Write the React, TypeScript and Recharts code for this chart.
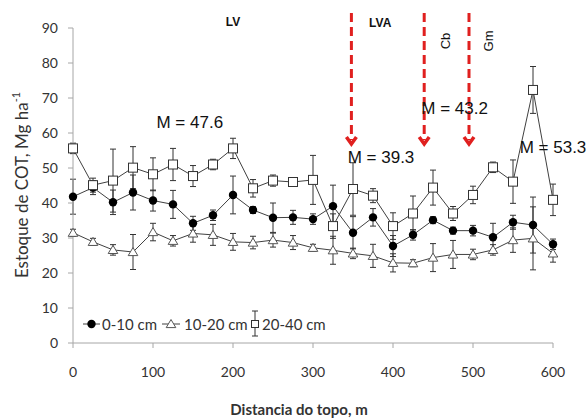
import React from 'react';
import { LineChart, Line, XAxis, YAxis, ErrorBar, ReferenceLine, ReferenceDot } from 'recharts';

const distances = [0, 25, 50, 75, 100, 125, 150, 175, 200, 225, 250, 275, 300, 325, 350, 375, 400, 425, 450, 475, 500, 525, 550, 575, 600];

const cot0_10 = [41.8, 44.4, 40.2, 43.0, 40.7, 39.6, 34.2, 36.5, 42.3, 38.0, 35.8, 35.9, 35.4, 39.1, 31.5, 35.9, 27.7, 30.9, 35.1, 32.1, 32.1, 30.2, 34.5, 33.7, 28.2];
const err0_10 = [5.0, 2.0, 3.5, 5.0, 3.0, 4.0, 2.0, 1.5, 5.4, 1.0, 4.2, 2.0, 1.5, 6.0, 4.6, 2.5, 3.0, 1.5, 1.0, 1.0, 1.5, 4.0, 2.0, 8.0, 1.5];

const cot10_20 = [31.5, 28.9, 26.6, 26.0, 31.7, 29.2, 31.3, 30.9, 28.9, 28.7, 29.4, 28.7, 27.2, 26.5, 25.6, 24.9, 22.9, 22.8, 24.4, 25.3, 25.3, 26.6, 29.4, 29.9, 25.6];
const err10_20 = [1.0, 1.0, 1.5, 5.0, 2.5, 1.5, 2.5, 3.0, 2.4, 1.8, 2.0, 2.0, 1.0, 4.0, 1.5, 3.3, 2.6, 1.0, 4.0, 4.0, 1.5, 1.5, 3.5, 9.0, 2.5];

const cot20_40 = [55.6, 45.1, 46.4, 50.1, 48.2, 51.0, 47.7, 51.0, 55.6, 44.2, 46.4, 46.0, 46.6, 33.4, 44.0, 42.1, 33.4, 37.0, 44.4, 37.0, 42.3, 50.2, 46.1, 72.3, 40.9];
const err20_40 = [1.5, 2.0, 9.0, 6.0, 4.7, 4.6, 3.0, 1.5, 2.9, 2.5, 1.6, 1.0, 7.0, 3.5, 7.5, 2.0, 3.8, 5.0, 5.0, 2.0, 2.5, 1.5, 6.2, 6.7, 4.5];

const xTicks = [0, 100, 200, 300, 400, 500, 600];
const yTicks = [0, 10, 20, 30, 40, 50, 60, 70, 80, 90];

// boundaries between soil classes (distance, m)
const boundaries = [348, 439, 495];

const meanLabels = [
    { x: 146, y: 63.1, text: 'M = 47.6' },
    { x: 385, y: 52.9, text: 'M = 39.3' },
    { x: 477, y: 66.9, text: 'M = 43.2' },
    { x: 600, y: 56.0, text: 'M = 53.3' },
];

const soilLabels = [
    { x: 200, y: 91.7, text: 'LV', rotate: false },
    { x: 384, y: 91.4, text: 'LVA', rotate: false },
    { x: 466, y: 86.3, text: 'Cb', rotate: true },
    { x: 520, y: 86.3, text: 'Gm', rotate: true },
];

const chartData = distances.map((d, i) => ({
    d,
    a: cot0_10[i],
    aErr: err0_10[i],
    b: cot10_20[i],
    bErr: err10_20[i],
    c: cot20_40[i],
    cErr: err20_40[i],
}));

const LINE = '#404040';
const AXIS = '#a6a6a6';
const TEXT = '#333333';
const RED = '#e0201f';

const CircleDot = (props: any) => {
    const { cx, cy, index } = props;
    return <circle key={`a${index}`} cx={cx} cy={cy} r={4.2} fill="#000" />;
};

const TriangleDot = (props: any) => {
    const { cx, cy, index } = props;
    return (
        <path
            key={`b${index}`}
            d={`M${cx},${cy - 4.5}L${cx + 4.8},${cy + 3.6}L${cx - 4.8},${cy + 3.6}Z`}
            fill="#fff"
            stroke="#555"
            strokeWidth={1}
        />
    );
};

const SquareDot = (props: any) => {
    const { cx, cy, index } = props;
    return <rect key={`c${index}`} x={cx - 4.5} y={cy - 4.5} width={9} height={9} fill="#fff" stroke="#333" strokeWidth={1} />;
};

const ArrowShape = (props: any) => {
    const { x1, y1, x2, y2 } = props;
    const top = Math.min(y1, y2);
    const tip = Math.max(y1, y2);
    return (
        <g>
            <line x1={x1} y1={top} x2={x2} y2={tip - 6} stroke={RED} strokeWidth={3} strokeDasharray="9 5" />
            <polyline
                points={`${x1 - 5},${tip - 9} ${x1},${tip - 2} ${x1 + 5},${tip - 9}`}
                fill="none"
                stroke={RED}
                strokeWidth={3.5}
            />
        </g>
    );
};

const textShape = (text: string, opts: { size: number; bold?: boolean; rotate?: boolean }) => (props: any) => {
    const { cx, cy } = props;
    return (
        <text
            x={cx}
            y={cy}
            textAnchor="middle"
            dominantBaseline="central"
            fontFamily="'Liberation Sans', Arial, sans-serif"
            fontSize={opts.size}
            fontWeight={opts.bold ? 'bold' : 'normal'}
            fill="#111"
            transform={opts.rotate ? `rotate(-90, ${cx}, ${cy})` : undefined}
        >
            {text}
        </text>
    );
};

const legendText: React.CSSProperties = {
    position: 'absolute',
    fontFamily: 'Lato, sans-serif',
    fontSize: 15,
    color: TEXT,
    lineHeight: '18px',
    top: 315,
    whiteSpace: 'nowrap',
};

const App = () => {
    return (
        <div style={{ position: 'absolute', left: 0, top: 0, width: 587, height: 419, background: '#fff' }}>
            <LineChart width={587} height={419} data={chartData} margin={{ top: 28, right: 34, left: 0, bottom: 46 }}>
                <XAxis
                    dataKey="d"
                    type="number"
                    domain={[0, 600]}
                    ticks={xTicks}
                    stroke={AXIS}
                    tickSize={5}
                    tickMargin={19}
                    height={30}
                    tick={{ fill: TEXT, fontSize: 14, fontFamily: 'Lato, sans-serif' }}
                />
                <YAxis
                    type="number"
                    domain={[0, 90]}
                    ticks={yTicks}
                    stroke={AXIS}
                    tickSize={5}
                    tickMargin={10}
                    width={73}
                    tick={{ fill: TEXT, fontSize: 14, fontFamily: 'Lato, sans-serif' }}
                />
                <Line dataKey="a" stroke={LINE} strokeWidth={1} dot={CircleDot} isAnimationActive={false} type="linear">
                    <ErrorBar dataKey="aErr" width={3} stroke="#333" strokeWidth={1} direction="y" />
                </Line>
                <Line dataKey="b" stroke={LINE} strokeWidth={1} dot={TriangleDot} isAnimationActive={false} type="linear">
                    <ErrorBar dataKey="bErr" width={3} stroke="#333" strokeWidth={1} direction="y" />
                </Line>
                <Line dataKey="c" stroke={LINE} strokeWidth={1} dot={SquareDot} isAnimationActive={false} type="linear">
                    <ErrorBar dataKey="cErr" width={3} stroke="#333" strokeWidth={1} direction="y" />
                </Line>
                {boundaries.map((b) => (
                    <ReferenceLine
                        key={b}
                        segment={[{ x: b, y: 94.3 }, { x: b, y: 56.3 }]}
                        ifOverflow="visible"
                        shape={ArrowShape}
                    />
                ))}
                {meanLabels.map((m) => (
                    <ReferenceDot key={m.text} x={m.x} y={m.y} r={0} ifOverflow="visible" shape={textShape(m.text, { size: 17 })} />
                ))}
                {soilLabels.map((s) => (
                    <ReferenceDot
                        key={s.text}
                        x={s.x}
                        y={s.y}
                        r={0}
                        ifOverflow="visible"
                        shape={textShape(s.text, { size: s.rotate ? 13 : 12, bold: !s.rotate, rotate: s.rotate })}
                    />
                ))}
            </LineChart>

            <svg width={587} height={419} style={{ position: 'absolute', left: 0, top: 0, pointerEvents: 'none' }}>
                <text
                    transform="translate(21, 185) rotate(-90)"
                    textAnchor="middle"
                    dominantBaseline="central"
                    fontFamily="Lato, sans-serif"
                    fontSize={17}
                    fill={TEXT}
                >
                    Estoque de COT, Mg ha<tspan fontSize={11} dy={-6}>-1</tspan>
                </text>
                <text x={299} y={409} textAnchor="middle" dominantBaseline="central" fontFamily="Lato, sans-serif" fontSize={15} fontWeight="bold" fill={TEXT}>
                    Distancia do topo, m
                </text>

                <line x1={83} y1={324} x2={100} y2={324} stroke={LINE} />
                <circle cx={91.5} cy={324} r={4.2} fill="#000" />
                <line x1={162} y1={324} x2={180} y2={324} stroke={LINE} />
                <path d="M171,319.5L175.8,327.6L166.2,327.6Z" fill="#fff" stroke="#555" />
                <line x1={255} y1={311} x2={255} y2={336} stroke="#333" />
                <line x1={252} y1={311} x2={258} y2={311} stroke="#333" />
                <line x1={252} y1={336} x2={258} y2={336} stroke="#333" />
                <rect x={251.5} y={320.5} width={7} height={7} fill="#fff" stroke="#333" />
            </svg>
            <span style={{ ...legendText, left: 102 }}>0-10 cm</span>
            <span style={{ ...legendText, left: 184 }}>10-20 cm</span>
            <span style={{ ...legendText, left: 262 }}>20-40 cm</span>
        </div>
    );
};

export default App;
